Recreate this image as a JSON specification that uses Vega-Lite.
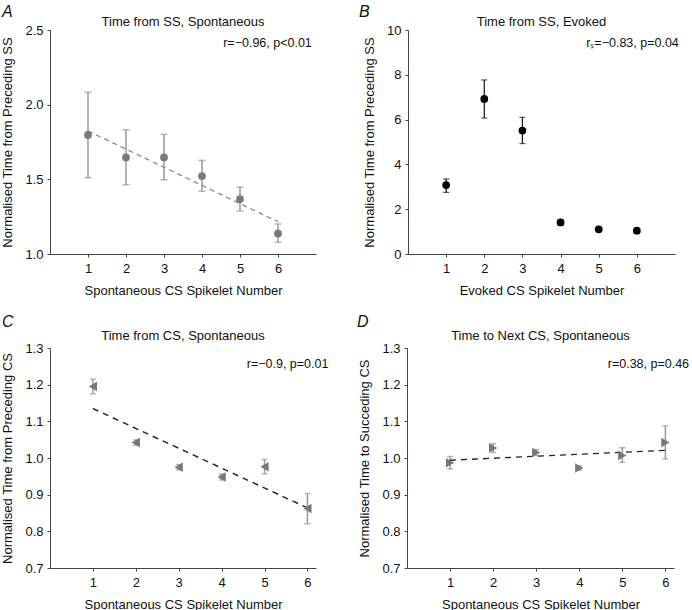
{
  "$schema": "https://vega.github.io/schema/vega-lite/v6.json",
  "padding": {"left": 1, "top": 3, "right": 0, "bottom": 0},
  "datasets": {
    "A": [
      {"n": 1, "y": 1.797, "lo": 1.511, "hi": 2.083},
      {"n": 2, "y": 1.647, "lo": 1.464, "hi": 1.832},
      {"n": 3, "y": 1.647, "lo": 1.497, "hi": 1.801},
      {"n": 4, "y": 1.522, "lo": 1.420, "hi": 1.627},
      {"n": 5, "y": 1.368, "lo": 1.288, "hi": 1.448},
      {"n": 6, "y": 1.138, "lo": 1.078, "hi": 1.201}
    ],
    "Afit": [{"n": 1, "y": 1.824}, {"n": 6, "y": 1.216}],
    "B": [
      {"n": 1, "y": 3.08, "lo": 2.75, "hi": 3.35},
      {"n": 2, "y": 6.92, "lo": 6.07, "hi": 7.77},
      {"n": 3, "y": 5.51, "lo": 4.93, "hi": 6.10},
      {"n": 4, "y": 1.41, "lo": 1.30, "hi": 1.53},
      {"n": 5, "y": 1.10, "lo": 1.02, "hi": 1.18},
      {"n": 6, "y": 1.04, "lo": 0.97, "hi": 1.11}
    ],
    "C": [
      {"n": 1, "y": 1.195, "lo": 1.175, "hi": 1.215},
      {"n": 2, "y": 1.042, "lo": 1.035, "hi": 1.049},
      {"n": 3, "y": 0.975, "lo": 0.968, "hi": 0.982},
      {"n": 4, "y": 0.948, "lo": 0.940, "hi": 0.956},
      {"n": 5, "y": 0.976, "lo": 0.957, "hi": 0.996},
      {"n": 6, "y": 0.862, "lo": 0.821, "hi": 0.903}
    ],
    "Cfit": [{"n": 1, "y": 1.135}, {"n": 6, "y": 0.864}],
    "D": [
      {"n": 1, "y": 0.987, "lo": 0.970, "hi": 1.004},
      {"n": 2, "y": 1.027, "lo": 1.015, "hi": 1.039},
      {"n": 3, "y": 1.015, "lo": 1.007, "hi": 1.023},
      {"n": 4, "y": 0.973, "lo": 0.967, "hi": 0.979},
      {"n": 5, "y": 1.007, "lo": 0.988, "hi": 1.028},
      {"n": 6, "y": 1.042, "lo": 0.997, "hi": 1.088}
    ],
    "Dfit": [{"n": 1, "y": 0.994}, {"n": 6, "y": 1.021}],
    "one": [{}]
  },
  "config": {
    "font": "Liberation Sans",
    "view": {"stroke": null},
    "text": {"color": "#111", "baseline": "alphabetic"},
    "axis": {
      "grid": false,
      "domainColor": "#444",
      "tickColor": "#444",
      "tickSize": 3,
      "labelFontSize": 13,
      "labelColor": "#111",
      "labelOverlap": false,
      "titleFontSize": 13,
      "titleFontWeight": "normal",
      "titleColor": "#111",
      "labelPadding": 4
    },
    "axisX": {"titlePadding": 9, "labelPadding": 5},
    "axisY": {"titlePadding": 10}
  },
  "vconcat": [
    {
      "hconcat": [
        {
          "width": 266, "height": 224,
          "layer": [
            {
              "data": {"name": "A"},
              "mark": {"type": "errorbar", "ticks": {"size": 7}, "color": "#999999", "thickness": 1.5},
              "encoding": {
                "x": {"field": "n", "type": "quantitative", "scale": {"domain": [0, 7], "nice": false}, "axis": {"values": [1, 2, 3, 4, 5, 6], "tickCount": 10, "format": "d", "title": "Spontaneous CS Spikelet Number"}},
                "y": {"field": "lo", "type": "quantitative", "scale": {"domain": [1.0, 2.5], "nice": false, "zero": false}, "axis": {"values": [1.0, 1.5, 2.0, 2.5], "tickCount": 10, "format": ".1f", "title": "Normalised Time from Preceding SS"}},
                "y2": {"field": "hi"}
              }
            },
            {
              "data": {"name": "Afit"},
              "mark": {"type": "line", "strokeDash": [5, 4], "color": "#8a8a8a", "strokeWidth": 1.3},
              "encoding": {
                "x": {"field": "n", "type": "quantitative"},
                "y": {"field": "y", "type": "quantitative", "title": "Normalised Time from Preceding SS"}
              }
            },
            {
              "data": {"name": "A"},
              "mark": {"type": "point", "filled": true, "shape": "circle", "size": 60, "color": "#7a7a7a", "opacity": 1},
              "encoding": {
                "x": {"field": "n", "type": "quantitative"},
                "y": {"field": "y", "type": "quantitative", "title": "Normalised Time from Preceding SS"}
              }
            },
            {
              "data": {"name": "one"},
              "mark": {"type": "text", "text": "Time from SS, Spontaneous", "align": "center", "fontSize": 13},
              "encoding": {"x": {"datum": 3.5}, "y": {"datum": 2.527}}
            },
            {
              "data": {"name": "one"},
              "mark": {"type": "text", "text": "r=\u22120.96, p<0.01", "align": "right", "fontSize": 12.5},
              "encoding": {"x": {"datum": 6.89}, "y": {"datum": 2.383}}
            },
            {
              "data": {"name": "one"},
              "mark": {"type": "text", "text": "A", "align": "left", "fontSize": 16, "fontStyle": "italic"},
              "encoding": {"x": {"datum": -1.26}, "y": {"datum": 2.59}}
            }
          ]
        },
        {
          "width": 267, "height": 224,
          "layer": [
            {
              "data": {"name": "B"},
              "mark": {"type": "errorbar", "ticks": {"size": 6}, "color": "#111111", "thickness": 1.2},
              "encoding": {
                "x": {"field": "n", "type": "quantitative", "scale": {"domain": [0, 7], "nice": false}, "axis": {"values": [1, 2, 3, 4, 5, 6], "tickCount": 10, "format": "d", "title": "Evoked CS Spikelet Number"}},
                "y": {"field": "lo", "type": "quantitative", "scale": {"domain": [0, 10], "nice": false}, "axis": {"values": [0, 2, 4, 6, 8, 10], "tickCount": 10, "format": "d", "title": "Normalised Time from Preceding SS"}},
                "y2": {"field": "hi"}
              }
            },
            {
              "data": {"name": "B"},
              "mark": {"type": "point", "filled": true, "shape": "circle", "size": 60, "color": "#000000", "opacity": 1},
              "encoding": {
                "x": {"field": "n", "type": "quantitative"},
                "y": {"field": "y", "type": "quantitative", "title": "Normalised Time from Preceding SS"}
              }
            },
            {
              "data": {"name": "one"},
              "mark": {"type": "text", "text": "Time from SS, Evoked", "align": "center", "fontSize": 13},
              "encoding": {"x": {"datum": 3.5}, "y": {"datum": 10.18}}
            },
            {
              "data": {"name": "one"},
              "mark": {"type": "text", "text": "r\u209b=\u22120.83, p=0.04", "align": "right", "fontSize": 12.5},
              "encoding": {"x": {"datum": 7.1}, "y": {"datum": 9.22}}
            },
            {
              "data": {"name": "one"},
              "mark": {"type": "text", "text": "B", "align": "left", "fontSize": 16, "fontStyle": "italic"},
              "encoding": {"x": {"datum": -1.285}, "y": {"datum": 10.6}}
            }
          ]
        }
      ],
      "spacing": 42
    },
    {
      "hconcat": [
        {
          "width": 266, "height": 220,
          "layer": [
            {
              "data": {"name": "C"},
              "mark": {"type": "errorbar", "ticks": {"size": 6}, "color": "#999999", "thickness": 1.5},
              "encoding": {
                "x": {"field": "n", "type": "quantitative", "scale": {"domain": [0, 6.2], "nice": false}, "axis": {"values": [1, 2, 3, 4, 5, 6], "tickCount": 10, "format": "d", "title": "Spontaneous CS Spikelet Number"}},
                "y": {"field": "lo", "type": "quantitative", "scale": {"domain": [0.7, 1.3], "nice": false, "zero": false}, "axis": {"values": [0.7, 0.8, 0.9, 1.0, 1.1, 1.2, 1.3], "tickCount": 10, "format": ".1f", "title": "Normalised Time from Preceding CS"}},
                "y2": {"field": "hi"}
              }
            },
            {
              "data": {"name": "Cfit"},
              "mark": {"type": "line", "strokeDash": [6, 5], "color": "#222222", "strokeWidth": 1.4},
              "encoding": {
                "x": {"field": "n", "type": "quantitative"},
                "y": {"field": "y", "type": "quantitative", "title": "Normalised Time from Preceding CS"}
              }
            },
            {
              "data": {"name": "C"},
              "mark": {"type": "point", "filled": true, "shape": "triangle-left", "size": 90, "color": "#777777", "opacity": 1},
              "encoding": {
                "x": {"field": "n", "type": "quantitative"},
                "y": {"field": "y", "type": "quantitative", "title": "Normalised Time from Preceding CS"}
              }
            },
            {
              "data": {"name": "one"},
              "mark": {"type": "text", "text": "Time from CS, Spontaneous", "align": "center", "fontSize": 13},
              "encoding": {"x": {"datum": 3.1}, "y": {"datum": 1.3218}}
            },
            {
              "data": {"name": "one"},
              "mark": {"type": "text", "text": "r=\u22120.9, p=0.01", "align": "right", "fontSize": 12.5},
              "encoding": {"x": {"datum": 6.49}, "y": {"datum": 1.2446}}
            },
            {
              "data": {"name": "one"},
              "mark": {"type": "text", "text": "C", "align": "left", "fontSize": 16, "fontStyle": "italic"},
              "encoding": {"x": {"datum": -1.116}, "y": {"datum": 1.357}}
            }
          ]
        },
        {
          "width": 267, "height": 220,
          "layer": [
            {
              "data": {"name": "D"},
              "mark": {"type": "errorbar", "ticks": {"size": 6}, "color": "#999999", "thickness": 1.5},
              "encoding": {
                "x": {"field": "n", "type": "quantitative", "scale": {"domain": [0, 6.2], "nice": false}, "axis": {"values": [1, 2, 3, 4, 5, 6], "tickCount": 10, "format": "d", "title": "Spontaneous CS Spikelet Number"}},
                "y": {"field": "lo", "type": "quantitative", "scale": {"domain": [0.7, 1.3], "nice": false, "zero": false}, "axis": {"values": [0.7, 0.8, 0.9, 1.0, 1.1, 1.2, 1.3], "tickCount": 10, "format": ".1f", "title": "Normalised Time to Succeding CS"}},
                "y2": {"field": "hi"}
              }
            },
            {
              "data": {"name": "Dfit"},
              "mark": {"type": "line", "strokeDash": [6, 5], "color": "#222222", "strokeWidth": 1.4},
              "encoding": {
                "x": {"field": "n", "type": "quantitative"},
                "y": {"field": "y", "type": "quantitative", "title": "Normalised Time to Succeding CS"}
              }
            },
            {
              "data": {"name": "D"},
              "mark": {"type": "point", "filled": true, "shape": "triangle-right", "size": 90, "color": "#777777", "opacity": 1},
              "encoding": {
                "x": {"field": "n", "type": "quantitative"},
                "y": {"field": "y", "type": "quantitative", "title": "Normalised Time to Succeding CS"}
              }
            },
            {
              "data": {"name": "one"},
              "mark": {"type": "text", "text": "Time to Next CS, Spontaneous", "align": "center", "fontSize": 13},
              "encoding": {"x": {"datum": 3.1}, "y": {"datum": 1.3218}}
            },
            {
              "data": {"name": "one"},
              "mark": {"type": "text", "text": "r=0.38, p=0.46", "align": "right", "fontSize": 12.5},
              "encoding": {"x": {"datum": 6.55}, "y": {"datum": 1.2446}}
            },
            {
              "data": {"name": "one"},
              "mark": {"type": "text", "text": "D", "align": "left", "fontSize": 16, "fontStyle": "italic"},
              "encoding": {"x": {"datum": -1.16}, "y": {"datum": 1.357}}
            }
          ]
        }
      ],
      "spacing": 28
    }
  ],
  "spacing": 17
}
